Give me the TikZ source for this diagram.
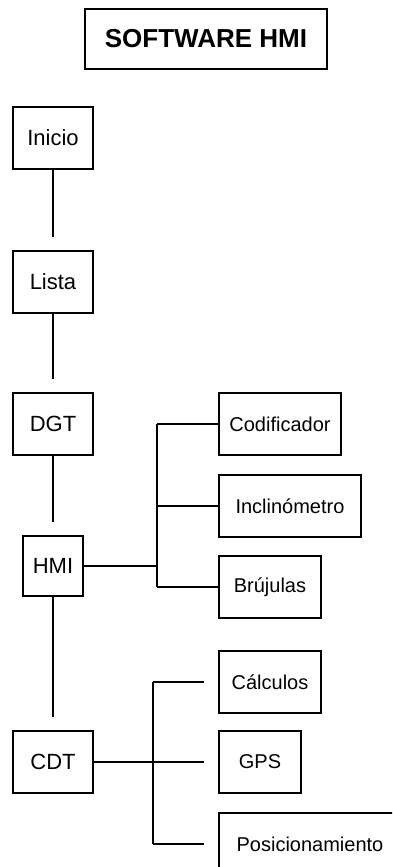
\documentclass[tikz,border=0pt]{standalone}
\usepackage{fontspec}
\setmainfont{Liberation Sans}
\begin{document}
\begin{tikzpicture}[x=1pt,y=-1pt,
  box/.style={draw, line width=2pt, inner sep=0pt, minimum height=62pt,
    font=\fontsize{22}{26}\selectfont},
  sub/.style={box, font=\fontsize{20}{24}\selectfont},
  link/.style={line width=2pt},
  down/.style={link, shorten >=13pt}]
  \clip (0,0) rectangle (392,867);
  % heading
  \node[box, minimum width=242pt, minimum height=60pt,
        font=\bfseries\fontsize{26}{31}\selectfont] (title) at (206,39) {SOFTWARE HMI};
  % main chain
  \node[box, minimum width=80pt] (inicio) at (53,138) {Inicio};
  \node[box, minimum width=80pt] (lista)  at (53,282) {Lista};
  \node[box, minimum width=80pt] (dgt)    at (53,424) {DGT};
  \node[box, minimum width=60pt, minimum height=60pt] (hmi) at (53,566) {HMI};
  \node[box, minimum width=80pt] (cdt) at (53,762) {CDT};
  % HMI modules
  \node[sub, minimum width=122pt] (cod) at (280,424) {Codificador};
  \node[sub, minimum width=142pt] (inc) at (290,506) {Inclinómetro};
  \node[sub, minimum width=102pt] (bru) at (270,587) {Brújulas};
  % CDT modules
  \node[sub, minimum width=102pt] (cal) at (270,682) {Cálculos};
  \node[sub, minimum width=82pt] (gps) at (260,762) {GPS};
  \node[sub, minimum width=182pt] (pos) at (310,844) {Posicionamiento};

  % vertical chain
  \draw[down] (inicio) -- (lista);
  \draw[down] (lista) -- (dgt);
  \draw[down] (dgt) -- (hmi);
  \draw[down] (hmi) -- (cdt);

  % HMI branch
  \coordinate (hj) at (157,566);
  \coordinate (hjt) at (157,424);
  \coordinate (hjm) at (157,506);
  \coordinate (hjb) at (157,587);
  \draw[link] (hmi.east) -- (hj);
  \draw[link] (hjt) -- (hjb);
  \draw[link] (hjt) -- (cod.west);
  \draw[link] (hjm) -- (inc.west);
  \draw[link] (hjb) -- (bru.west);

  % CDT branch
  \coordinate (cjt) at (153,682);
  \coordinate (cjb) at (153,844);
  \draw[link] (cjt) -- (cjb);
  \draw[link, shorten >=14pt] (cdt.east) -- (gps.west);
  \draw[link, shorten >=14pt] (cjt) -- (cal.west);
  \draw[link, shorten >=14pt] (cjb) -- (pos.west);
\end{tikzpicture}
\end{document}
